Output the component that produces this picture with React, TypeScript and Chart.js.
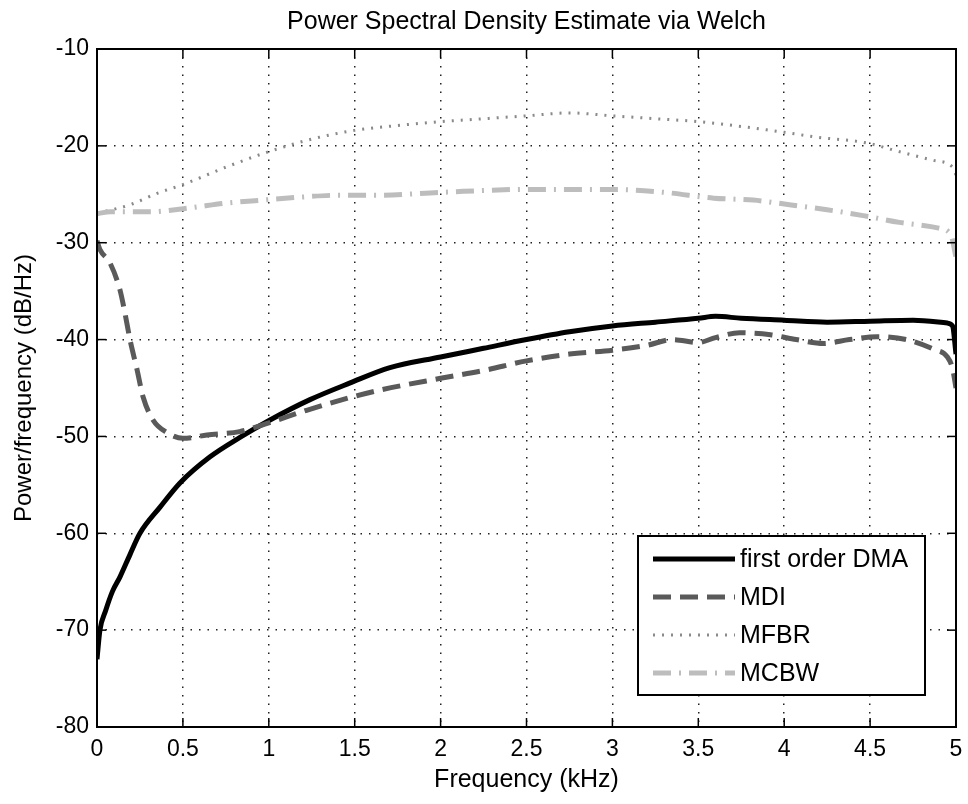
import React, { useEffect, useRef } from "react";
import { Chart, registerables } from "chart.js";

Chart.register(...registerables);

const titleText = "Power Spectral Density Estimate via Welch";
const xTitle = "Frequency (kHz)";
const yTitle = "Power/frequency (dB/Hz)";
const seriesLabels = ["first order DMA", "MDI", "MFBR", "MCBW"];

const xTicks = [0, 0.5, 1, 1.5, 2, 2.5, 3, 3.5, 4, 4.5, 5];
const yTicks = [-80, -70, -60, -50, -40, -30, -20, -10];

const dmaFreq = [0, 0.017, 0.05, 0.09, 0.134, 0.192, 0.25, 0.367, 0.483, 0.658, 0.832, 1.007, 1.24, 1.47, 1.705, 2.0, 2.25, 2.5, 2.75, 3.0, 3.25, 3.5, 3.6, 3.75, 4.0, 4.25, 4.5, 4.75, 4.95, 4.98, 5.0];
const dmaPower = [-73, -70, -68, -66, -64.5, -62.2, -60, -57.3, -54.8, -52.1, -50.1, -48.3, -46.2, -44.5, -42.9, -41.8, -40.9, -40, -39.2, -38.6, -38.2, -37.8, -37.6, -37.8, -38.0, -38.2, -38.1, -38.0, -38.3, -38.6, -41.5];

const mdiFreq = [0, 0.017, 0.076, 0.134, 0.163, 0.192, 0.233, 0.268, 0.326, 0.407, 0.5, 0.64, 0.83, 1.0, 1.22, 1.47, 1.65, 2.0, 2.25, 2.5, 2.75, 3.0, 3.2, 3.35, 3.5, 3.6, 3.74, 3.92, 4.07, 4.23, 4.38, 4.54, 4.71, 4.87, 4.95, 4.98, 5.0];
const mdiPower = [-29.8, -30.7, -32.1, -34.9, -37.3, -40, -43.1, -45.9, -48.3, -49.6, -50.2, -49.85, -49.5, -48.6, -47.3, -46, -45.2, -44, -43.2, -42.2, -41.5, -41.1, -40.6, -40, -40.3, -39.8, -39.3, -39.5, -40, -40.4, -40, -39.7, -40, -41, -41.8, -43, -45];

const mfbrFreq = [0, 0.04, 0.19, 0.35, 0.5, 0.75, 1.0, 1.25, 1.5, 1.75, 2.0, 2.25, 2.5, 2.75, 3.0, 3.25, 3.5, 3.75, 4.0, 4.19, 4.48, 4.67, 4.87, 4.98, 5.0];
const mfbrPower = [-27, -26.8, -26.1, -24.9, -24, -22.2, -20.6, -19.3, -18.4, -17.9, -17.5, -17.2, -16.9, -16.6, -16.9, -17.2, -17.5, -18.0, -18.6, -19.1, -19.7, -20.6, -21.5, -22.2, -23];

const mcbwFreq = [0, 0.08, 0.31, 0.54, 0.757, 0.966, 1.18, 1.4, 1.63, 2.0, 2.5, 3.0, 3.3, 3.59, 3.82, 4.04, 4.25, 4.46, 4.67, 4.9, 4.97, 5.0];
const mcbwPower = [-27, -26.8, -26.8, -26.4, -25.9, -25.6, -25.3, -25.1, -25.1, -24.8, -24.5, -24.5, -24.8, -25.4, -25.6, -26.1, -26.6, -27.2, -27.9, -28.5, -29.2, -31.5];

const FONT = '"Liberation Sans", Arial, sans-serif';

const toPoints = (xs: number[], ys: number[]) => xs.map((x, i) => ({ x, y: ys[i] }));

const framePlugin = {
  id: "frame",
  afterDatasetsDraw(chart: any) {
    const { ctx, chartArea: a, scales } = chart;
    ctx.save();
    ctx.setLineDash([]);
    ctx.strokeStyle = "#000";
    ctx.lineWidth = 1.5;
    const tl = 9;
    const seg = (x1: number, y1: number, x2: number, y2: number) => {
      ctx.beginPath();
      ctx.moveTo(x1, y1);
      ctx.lineTo(x2, y2);
      ctx.stroke();
    };
    xTicks.forEach((v) => {
      const px = scales.x.getPixelForValue(v);
      seg(px, a.bottom, px, a.bottom - tl);
      seg(px, a.top, px, a.top + tl);
    });
    yTicks.forEach((v) => {
      const py = scales.y.getPixelForValue(v);
      seg(a.left, py, a.left + tl, py);
      seg(a.right, py, a.right - tl, py);
    });
    ctx.lineWidth = 2;
    ctx.strokeRect(a.left, a.top, a.right - a.left, a.bottom - a.top);

    // legend
    const w = 287, h = 159;
    const lx = a.right - 31 - w;
    const ly = a.bottom - 32 - h;
    ctx.fillStyle = "#fff";
    ctx.fillRect(lx, ly, w, h);
    ctx.lineWidth = 2;
    ctx.strokeStyle = "#000";
    ctx.strokeRect(lx, ly, w, h);
    chart.data.datasets.forEach((ds: any, i: number) => {
      const ry = ly + 23 + i * 38;
      ctx.save();
      ctx.strokeStyle = ds.borderColor;
      ctx.lineWidth = ds.borderWidth;
      ctx.setLineDash(ds.borderDash || []);
      ctx.lineCap = "butt";
      seg(lx + 15, ry, lx + 97, ry);
      ctx.restore();
      ctx.fillStyle = "#000";
      ctx.font = "25px " + FONT;
      ctx.textAlign = "left";
      ctx.textBaseline = "middle";
      ctx.fillText(ds.label, lx + 102, ry + 1);
    });

    // title
    ctx.fillStyle = "#000";
    ctx.font = "25px " + FONT;
    ctx.textAlign = "center";
    ctx.textBaseline = "alphabetic";
    ctx.fillText(titleText, (a.left + a.right) / 2, 29);
    ctx.restore();
  },
};

export default function App() {
  const canvasRef = useRef<HTMLCanvasElement | null>(null);

  useEffect(() => {
    const canvas = canvasRef.current;
    if (!canvas) return;
    const chart = new Chart(canvas, {
      type: "line",
      data: {
        datasets: [
          {
            label: seriesLabels[0],
            data: toPoints(dmaFreq, dmaPower),
            borderColor: "#000000",
            borderWidth: 5,
            borderDash: [],
            order: 4,
          },
          {
            label: seriesLabels[1],
            data: toPoints(mdiFreq, mdiPower),
            borderColor: "#5a5a5a",
            borderWidth: 5,
            borderDash: [18, 9],
            order: 3,
          },
          {
            label: seriesLabels[2],
            data: toPoints(mfbrFreq, mfbrPower),
            borderColor: "#8a8a8a",
            borderWidth: 3,
            borderDash: [2, 7],
            order: 2,
          },
          {
            label: seriesLabels[3],
            data: toPoints(mcbwFreq, mcbwPower),
            borderColor: "#bdbdbd",
            borderWidth: 5,
            borderDash: [18, 8, 2, 8],
            order: 1,
          },
        ] as any,
      },
      options: {
        animation: false,
        responsive: true,
        maintainAspectRatio: false,
        layout: { padding: { left: 0, right: 12, top: 49, bottom: 0 } },
        elements: {
          point: { radius: 0, hoverRadius: 0 },
          line: { tension: 0, cubicInterpolationMode: "monotone", fill: false },
        },
        plugins: {
          legend: { display: false },
          title: { display: false },
          tooltip: { enabled: false },
        },
        events: [],
        scales: {
          x: {
            type: "linear",
            min: 0,
            max: 5,
            afterBuildTicks: (scale: any) => {
              scale.ticks = xTicks.map((v) => ({ value: v }));
            },
            afterFit: (scale: any) => {
              scale.height = 77;
              scale.paddingLeft = 0;
              scale.paddingRight = 0;
            },
            grid: { color: "#222", lineWidth: 1.5, drawTicks: false },
            border: { display: false, dash: [1.5, 7] },
            ticks: {
              color: "#000",
              font: { family: FONT, size: 23 },
              padding: 9,
              maxRotation: 0,
              autoSkip: false,
              callback: (v: any) => String(v),
            },
            title: {
              display: true,
              text: xTitle,
              color: "#000",
              font: { family: FONT, size: 25 },
              padding: { top: 0, bottom: 9 },
            },
          },
          y: {
            type: "linear",
            min: -80,
            max: -10,
            afterBuildTicks: (scale: any) => {
              scale.ticks = yTicks.map((v) => ({ value: v }));
            },
            afterFit: (scale: any) => {
              scale.width = 97;
              scale.paddingTop = 0;
              scale.paddingBottom = 0;
            },
            grid: { color: "#222", lineWidth: 1.5, drawTicks: false },
            border: { display: false, dash: [1.5, 7] },
            ticks: {
              color: "#000",
              font: { family: FONT, size: 23 },
              padding: 8,
              autoSkip: false,
              callback: (v: any) => String(v),
            },
            title: {
              display: true,
              text: yTitle,
              color: "#000",
              font: { family: FONT, size: 24 },
              padding: { top: 10, bottom: 0 },
            },
          },
        },
      } as any,
      plugins: [framePlugin],
    });
    return () => chart.destroy();
  }, []);

  return (
    <div
      style={{
        position: "absolute",
        left: 0,
        top: 0,
        width: 968,
        height: 804,
        background: "#fff",
      }}
    >
      <canvas ref={canvasRef} />
    </div>
  );
}
